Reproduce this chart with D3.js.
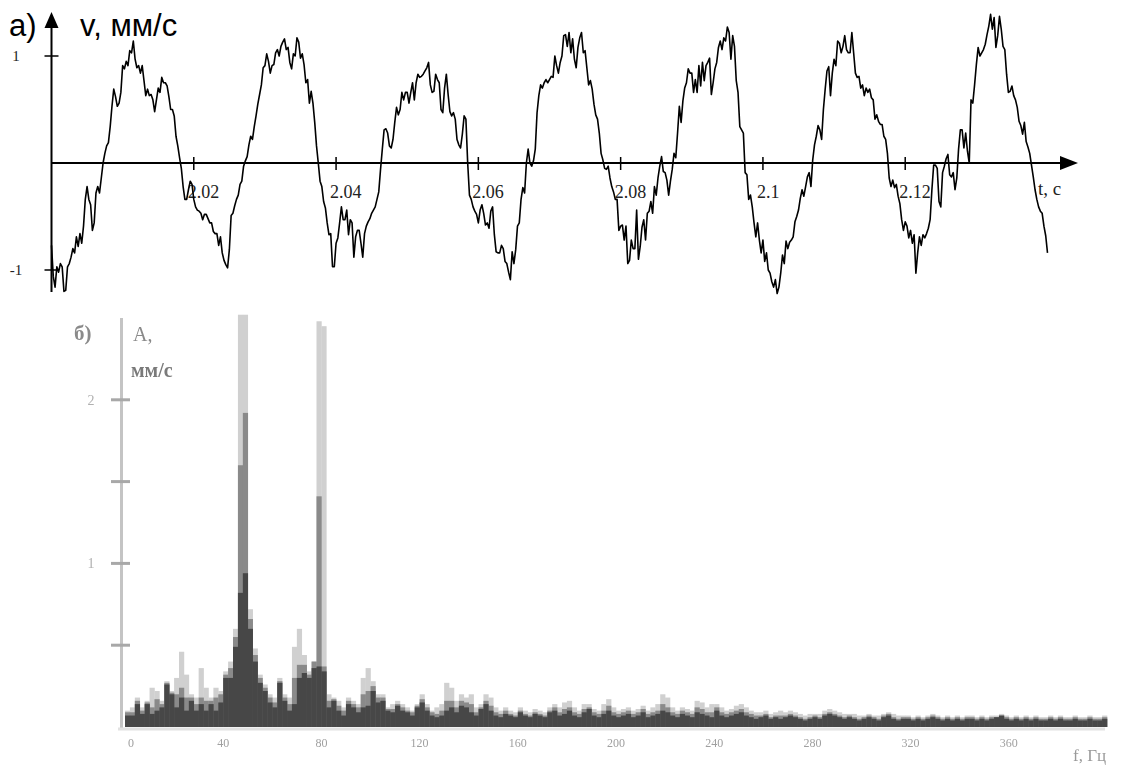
<!DOCTYPE html>
<html>
<head>
<meta charset="utf-8">
<script src="https://cdn.jsdelivr.net/npm/d3@7"></script>
<style>
  body { margin: 0; background: #fff; }
</style>
</head>
<body>
<div id="chart"></div>
<script>
// ---- a) velocity signal, one sample every 0.25 ms starting at t = 2.0 s
var t0 = 2.0, dt = 0.00025;
var velocity = [
  -0.77,-1.06, -1.16,-0.97, -1.02,-0.94, -0.97,-1.20, -1.19,-0.97,
  -0.94,-0.88, -0.80,-0.84, -0.69,-0.78, -0.66,-0.75, -0.59,-0.34,
  -0.22,-0.34, -0.39,-0.63, -0.56,-0.28, -0.22,-0.28, -0.14, 0.00,
   0.09, 0.16,  0.19, 0.34,  0.53, 0.69,  0.62, 0.53,  0.56, 0.66,
   0.91, 0.88,  0.95, 0.91,  1.05, 1.03,  1.14, 0.97,  0.89, 0.91,
   0.84, 0.91,  0.77, 0.63,  0.69, 0.63,  0.64, 0.59,  0.48, 0.59,
   0.70, 0.66,  0.80, 0.75,  0.75, 0.72,  0.62, 0.50,  0.50, 0.44,
   0.25, 0.16,  0.05,-0.05, -0.22,-0.34, -0.34,-0.25, -0.17,-0.20,
  -0.34,-0.41, -0.44,-0.45, -0.47,-0.53, -0.48,-0.48, -0.52,-0.56,
  -0.56,-0.64, -0.66,-0.66, -0.77,-0.69, -0.84,-0.91, -0.95,-0.98,
  -0.81,-0.49, -0.47,-0.40, -0.34,-0.30, -0.20,-0.17, -0.03, 0.02,
   0.06, 0.17,  0.25, 0.22,  0.34, 0.44,  0.55, 0.64,  0.73, 0.89,
   0.91, 1.02,  0.95, 0.84,  0.91, 0.92,  1.03, 1.06,  1.00, 1.09,
   1.13, 1.16,  1.06, 1.08,  0.94, 0.88,  1.02, 1.00,  1.17, 1.13,
   0.98, 1.02,  0.92, 0.75,  0.78, 0.56,  0.67, 0.56,  0.38, 0.16,
   0.00,-0.17, -0.22,-0.36, -0.42,-0.56, -0.67,-0.66, -0.97,-0.97,
  -0.75,-0.70, -0.56,-0.41, -0.53,-0.53, -0.44,-0.67, -0.53,-0.56,
  -0.88,-0.69, -0.63,-0.63, -0.75,-0.88, -0.66,-0.59, -0.55,-0.52,
  -0.47,-0.44, -0.41,-0.34, -0.27,-0.06,  0.13, 0.31,  0.32, 0.28,
   0.16, 0.14,  0.22, 0.38,  0.52, 0.45,  0.50, 0.66,  0.59, 0.66,
   0.66, 0.56,  0.66, 0.75,  0.59, 0.75,  0.83, 0.80,  0.81, 0.83,
   0.86, 0.89,  0.94, 0.73,  0.66, 0.67,  0.83, 0.78,  0.75, 0.50,
   0.47, 0.70,  0.83, 0.64,  0.48, 0.44,  0.47, 0.41,  0.22, 0.17,
   0.14, 0.27,  0.44, 0.41,  0.00,-0.30, -0.34,-0.41, -0.45,-0.48,
  -0.56,-0.44, -0.39,-0.47, -0.58,-0.56, -0.61,-0.45, -0.41,-0.67,
  -0.83,-0.84, -0.84,-0.77, -0.80,-0.92, -0.94,-1.02, -1.09,-0.83,
  -0.94,-0.81, -0.59,-0.56, -0.34,-0.23, -0.28, 0.00,  0.13, 0.00,
  -0.03, 0.02,  0.13, 0.47,  0.63, 0.73,  0.70, 0.75,  0.78, 0.75,
   0.78, 0.81,  0.80, 1.00,  0.91, 0.84,  0.94, 1.00,  1.19, 1.20,
   1.09, 1.22,  1.03, 1.16,  0.97, 0.89,  1.08, 1.17,  1.22, 1.03,
   1.05, 0.89,  0.73, 0.77,  0.69, 0.55,  0.45, 0.41,  0.28, 0.09,
   0.03,-0.05, -0.06,-0.03, -0.14,-0.22, -0.27,-0.34, -0.34,-0.63,
  -0.59,-0.58, -0.72,-0.59, -0.94,-0.91, -0.72,-0.80, -0.80,-0.44,
  -0.90,-0.78, -0.60,-0.53, -0.72,-0.47, -0.45,-0.36, -0.47,-0.22,
  -0.30,-0.14, -0.03, 0.06, -0.08,-0.09, -0.16,-0.30, -0.17,-0.06,
   0.09, 0.05,  0.28, 0.53,  0.38, 0.58,  0.70, 0.75,  0.88, 0.84,
   0.84, 0.66,  0.78, 0.66,  0.91, 0.72,  0.94, 0.77,  0.91, 0.94,
   0.98, 0.64,  0.75, 0.88,  0.94, 1.08,  1.14, 1.06,  1.17, 1.14,
   1.27, 1.22,  0.97, 1.19,  1.09, 0.77,  0.66, 0.34,  0.31, 0.28,
  -0.09,-0.11, -0.34,-0.30, -0.41,-0.56, -0.69,-0.56, -0.72,-0.84,
  -0.72,-0.92, -0.84,-1.00, -1.03,-1.11, -1.16,-1.09, -1.22,-1.16,
  -1.03,-0.86, -0.94,-0.73, -0.80,-0.74, -0.72,-0.69, -0.55,-0.50,
  -0.44,-0.33, -0.25,-0.31, -0.22,-0.13, -0.09,-0.22,  0.03, 0.17,
   0.25, 0.35,  0.31, 0.22,  0.50, 0.69,  0.86, 0.90,  0.63, 0.84,
   0.97, 0.91,  1.14, 1.12,  1.03, 1.09,  1.19, 1.06,  1.03, 1.03,
   1.22, 1.03,  0.84, 0.80,  0.81, 0.70,  0.73, 0.63,  0.70, 0.66,
   0.69, 0.61,  0.59, 0.41,  0.45, 0.39,  0.36, 0.36,  0.25, 0.22,
   0.09,-0.14, -0.22,-0.16, -0.23,-0.20, -0.31,-0.38, -0.53,-0.63,
  -0.55,-0.59, -0.70,-0.63, -0.75,-0.67, -1.03,-0.84, -0.69,-0.77,
  -0.67,-0.70, -0.66,-0.61, -0.53,-0.25, -0.02,-0.02, -0.05,-0.36,
  -0.41,-0.09, -0.03, 0.04,  0.08,-0.11, -0.13,-0.09, -0.25,-0.14,
   0.13, 0.31,  0.31, 0.14,  0.28, 0.11,  0.00, 0.59,  0.56, 0.73,
   0.92, 1.08,  1.00, 1.03,  1.06, 1.11,  1.20, 1.28,  1.39, 1.25,
   1.36, 1.08,  1.19, 1.37,  1.25, 1.09,  1.06, 0.83,  0.66, 0.67,
   0.72, 0.63,  0.59, 0.52,  0.39, 0.35,  0.27, 0.38,  0.20, 0.15,
   0.09,-0.02, -0.13,-0.25, -0.34,-0.41, -0.45,-0.47, -0.59,-0.68,
  -0.84
];
var timeTicks = [2.02, 2.04, 2.06, 2.08, 2.1, 2.12];
var timeTickLabels = ["2.02", "2.04", "2.06", "2.08", "2.1", "2.12"];
var velTicks = [-1, 1];

// ---- b) amplitude spectrum, 2 Hz bins from 0 Hz
var binWidth = 2;
var ampLight = [
  .10,.12,.18,.12,.16,.24,.22,.16,.28,.22, .30,.46,.32,.20,.18,.36,.24,.18,.24,.22,
  .34,.40,.60,2.52,2.52,.72,.48,.32,.26,.20, .18,.30,.20,.18,.49,.60,.44,.34,.40,2.48,
  2.45,.20,.18,.16,.12,.18,.16,.14,.30,.36, .28,.20,.20,.12,.14,.16,.14,.12,.10,.14,
  .20,.14,.10,.12,.14,.27,.24,.16,.20,.18, .20,.12,.14,.20,.18,.12,.10,.12,.10,.09,
  .12,.10,.09,.11,.10,.09,.12,.14,.12,.15, .16,.12,.10,.14,.14,.11,.10,.14,.17,.12,
  .10,.11,.12,.10,.11,.13,.10,.12,.14,.20, .18,.12,.10,.12,.11,.10,.16,.15,.12,.14,
  .14,.12,.10,.11,.13,.14,.12,.10,.09,.09, .10,.08,.09,.10,.09,.10,.09,.08,.07,.08,
  .08,.08,.10,.11,.10,.09,.08,.08,.08,.07, .07,.08,.07,.07,.08,.09,.08,.07,.07,.07,
  .06,.07,.06,.07,.08,.07,.06,.07,.06,.07, .06,.07,.07,.06,.07,.06,.07,.07,.08,.07,
  .06,.07,.06,.07,.06,.07,.06,.06,.07,.06, .07,.06,.06,.07,.06,.06,.07,.06,.06,.07
];
var ampMid = [
  .09,.09,.16,.10,.15,.12,.17,.14,.27,.21, .20,.24,.18,.18,.14,.18,.16,.16,.18,.20,
  .32,.36,.55,1.60,1.92,.66,.44,.30,.24,.18, .15,.28,.18,.14,.30,.38,.38,.32,.40,1.41,
  .37,.16,.17,.13,.10,.16,.14,.12,.20,.22, .25,.18,.18,.11,.11,.14,.12,.10,.09,.13,
  .17,.12,.09,.08,.10,.16,.16,.12,.16,.15, .14,.09,.12,.16,.13,.09,.08,.10,.08,.07,
  .10,.08,.07,.09,.08,.07,.10,.12,.09,.11, .12,.09,.08,.11,.12,.09,.08,.10,.13,.09,
  .08,.09,.10,.08,.09,.11,.08,.09,.10,.14, .12,.09,.08,.10,.09,.08,.12,.11,.09,.09,
  .12,.09,.08,.09,.10,.11,.09,.08,.07,.07, .08,.06,.07,.07,.07,.08,.07,.06,.05,.06,
  .07,.06,.08,.09,.08,.07,.06,.07,.06,.05, .06,.07,.06,.05,.07,.08,.06,.05,.06,.06,
  .05,.06,.05,.06,.07,.06,.05,.06,.05,.06, .05,.06,.06,.05,.06,.05,.06,.06,.07,.06,
  .05,.06,.05,.06,.05,.06,.05,.05,.06,.05, .06,.05,.05,.06,.05,.05,.06,.05,.05,.06
];
var ampDark = [
  .07,.07,.14,.08,.14,.08,.10,.12,.26,.20, .12,.18,.10,.16,.10,.14,.10,.14,.10,.15,
  .30,.30,.49,.82,.94,.60,.40,.27,.22,.15, .12,.27,.16,.10,.14,.30,.33,.30,.36,.37,
  .34,.12,.16,.10,.07,.14,.12,.09,.12,.13, .22,.15,.16,.10,.09,.13,.10,.09,.07,.12,
  .15,.10,.07,.06,.07,.10,.12,.09,.13,.12, .09,.07,.11,.14,.10,.07,.06,.08,.07,.06,
  .09,.07,.06,.08,.07,.06,.09,.10,.07,.08, .10,.07,.06,.09,.11,.07,.06,.08,.10,.07,
  .06,.07,.08,.06,.07,.09,.06,.07,.08,.10, .09,.07,.06,.08,.07,.06,.09,.08,.07,.06,
  .10,.07,.06,.07,.08,.09,.07,.06,.05,.06, .07,.05,.06,.05,.06,.07,.06,.05,.04,.05,
  .06,.05,.07,.08,.07,.06,.05,.06,.05,.04, .05,.06,.05,.04,.06,.07,.05,.04,.05,.05,
  .04,.05,.04,.05,.06,.05,.04,.05,.04,.05, .04,.05,.05,.04,.05,.04,.05,.06,.07,.05,
  .04,.05,.04,.05,.04,.05,.04,.04,.05,.04, .05,.04,.04,.05,.04,.04,.05,.04,.04,.05
];
var freqTicks = [0, 40, 80, 120, 160, 200, 240, 280, 320, 360];
var ampTicks = [0.5, 1, 1.5, 2];
var ampTickLabels = [1, 2];

var W = 1127, H = 767;
var svg = d3.select("#chart").append("svg")
    .attr("width", W)
    .attr("height", H)
    .style("background", "#fff");

// ================= a) =================
var xT = d3.scaleLinear().domain([2.0, 2.14]).range([51.5, 1047.5]);
var yV = d3.scaleLinear().domain([-1, 1]).range([270, 56]);

var gTop = svg.append("g");

// x axis with arrow
gTop.append("line")
    .attr("x1", xT(2.0)).attr("x2", 1062)
    .attr("y1", yV(0)).attr("y2", yV(0))
    .attr("stroke", "#000").attr("stroke-width", 2);
gTop.append("path")
    .attr("d", "M1078," + yV(0) + "L1060," + (yV(0) - 7) + "L1060," + (yV(0) + 7) + "Z")
    .attr("fill", "#000");

// y axis with arrow
gTop.append("line")
    .attr("x1", xT(2.0)).attr("x2", xT(2.0))
    .attr("y1", 292).attr("y2", 24)
    .attr("stroke", "#000").attr("stroke-width", 2);
gTop.append("path")
    .attr("d", "M" + xT(2.0) + ",12L" + (xT(2.0) - 7) + ",28L" + (xT(2.0) + 7) + ",28Z")
    .attr("fill", "#000");

// time ticks (cross the axis)
gTop.selectAll(".tt").data(timeTicks).enter().append("line")
    .attr("x1", function(d){ return xT(d); })
    .attr("x2", function(d){ return xT(d); })
    .attr("y1", yV(0) - 6).attr("y2", yV(0) + 7)
    .attr("stroke", "#000").attr("stroke-width", 1.5);
gTop.selectAll(".tl").data(timeTicks).enter().append("text")
    .attr("x", function(d){ return xT(d) - 6; })
    .attr("y", 198)
    .attr("font-family", "Liberation Serif, serif")
    .attr("font-size", 18)
    .attr("fill", "#222")
    .text(function(d, i){ return timeTickLabels[i]; });

// velocity ticks
gTop.selectAll(".vt").data(velTicks).enter().append("line")
    .attr("x1", xT(2.0) - 7).attr("x2", xT(2.0) + 7)
    .attr("y1", function(d){ return yV(d); })
    .attr("y2", function(d){ return yV(d); })
    .attr("stroke", "#000").attr("stroke-width", 1.5);
gTop.selectAll(".vl").data(velTicks).enter().append("text")
    .attr("x", 16)
    .attr("y", function(d){ return yV(d) + 5; })
    .attr("text-anchor", "middle")
    .attr("font-family", "Liberation Serif, serif")
    .attr("font-size", 15)
    .attr("fill", "#222")
    .text(function(d){ return d; });

// signal
var line = d3.line()
    .x(function(d, i){ return xT(t0 + i * dt); })
    .y(function(d){ return yV(d); });
gTop.append("path")
    .datum(velocity)
    .attr("d", line)
    .attr("fill", "none")
    .attr("stroke", "#000")
    .attr("stroke-width", 1.6)
    .attr("stroke-linejoin", "round");

// labels
gTop.append("text").attr("x", 9).attr("y", 36)
    .attr("font-family", "Liberation Sans, Arial, sans-serif")
    .attr("font-size", 31).text("а)");
gTop.append("text").attr("x", 80).attr("y", 36)
    .attr("font-family", "Liberation Sans, Arial, sans-serif")
    .attr("font-size", 31).text("v, мм/с");
gTop.append("text").attr("x", 1038).attr("y", 195)
    .attr("font-family", "Liberation Serif, serif")
    .attr("font-size", 19).attr("fill", "#222").text("t, c");

// ================= b) =================
var defs = svg.append("defs");
defs.append("filter").attr("id", "soft")
  .append("feGaussianBlur").attr("stdDeviation", 0.7);

var xF = d3.scaleLinear().domain([0, 400]).range([125, 1107]);
var yA = d3.scaleLinear().domain([0, 2.5]).range([727, 318]);

var gBot = svg.append("g").attr("filter", "url(#soft)");

function bars(values, color) {
  gBot.append("g").selectAll("rect")
    .data(values)
    .enter()
    .append("rect")
      .attr("x", function(d, i){ return xF(i * binWidth); })
      .attr("width", function(d, i){ return xF((i + 1) * binWidth) - xF(i * binWidth) + 0.3; })
      .attr("y", function(d){ return yA(d); })
      .attr("height", function(d){ return yA(0) - yA(d); })
      .attr("fill", color);
}
bars(ampLight, "#d0d0d0");
bars(ampMid, "#8a8a8a");
bars(ampDark, "#474747");

// axes
gBot.append("line")
    .attr("x1", 121.5).attr("x2", 121.5)
    .attr("y1", yA(2.5)).attr("y2", yA(0) + 2)
    .attr("stroke", "#c4c4c4").attr("stroke-width", 3);
gBot.append("line")
    .attr("x1", 118).attr("x2", 1105)
    .attr("y1", yA(0) + 2).attr("y2", yA(0) + 2)
    .attr("stroke", "#e2e2e2").attr("stroke-width", 3);
gBot.selectAll(".at").data(ampTicks).enter().append("line")
    .attr("x1", 111).attr("x2", 130)
    .attr("y1", function(d){ return yA(d); })
    .attr("y2", function(d){ return yA(d); })
    .attr("stroke", "#a8a8a8").attr("stroke-width", 3);
gBot.selectAll(".al").data(ampTickLabels).enter().append("text")
    .attr("x", 91)
    .attr("y", function(d){ return yA(d) + 5; })
    .attr("text-anchor", "middle")
    .attr("font-family", "Liberation Serif, serif")
    .attr("font-size", 14)
    .attr("fill", "#b0b0b0")
    .text(function(d){ return d; });
gBot.selectAll(".fl").data(freqTicks).enter().append("text")
    .attr("x", function(d){ return xF(d) + (d === 0 ? 6 : 0); })
    .attr("y", 747)
    .attr("text-anchor", "middle")
    .attr("font-family", "Liberation Serif, serif")
    .attr("font-size", 12)
    .attr("fill", "#a0a0a0")
    .text(function(d){ return d; });

gBot.append("text").attr("x", 74).attr("y", 340)
    .attr("font-family", "Liberation Serif, serif")
    .attr("font-size", 21).attr("font-weight", "bold")
    .attr("fill", "#8a8a8a").text("б)");
gBot.append("text").attr("x", 133).attr("y", 341)
    .attr("font-family", "Liberation Serif, serif")
    .attr("font-size", 20)
    .attr("fill", "#8a8a8a").text("A,");
gBot.append("text").attr("x", 131).attr("y", 377)
    .attr("font-family", "Liberation Serif, serif")
    .attr("font-size", 20).attr("font-weight", "bold")
    .attr("fill", "#7a7a7a").text("мм/с");
gBot.append("text").attr("x", 1073).attr("y", 761)
    .attr("font-family", "Liberation Serif, serif")
    .attr("font-size", 17)
    .attr("fill", "#9a9a9a").text("f, Гц");
</script>
</body>
</html>
